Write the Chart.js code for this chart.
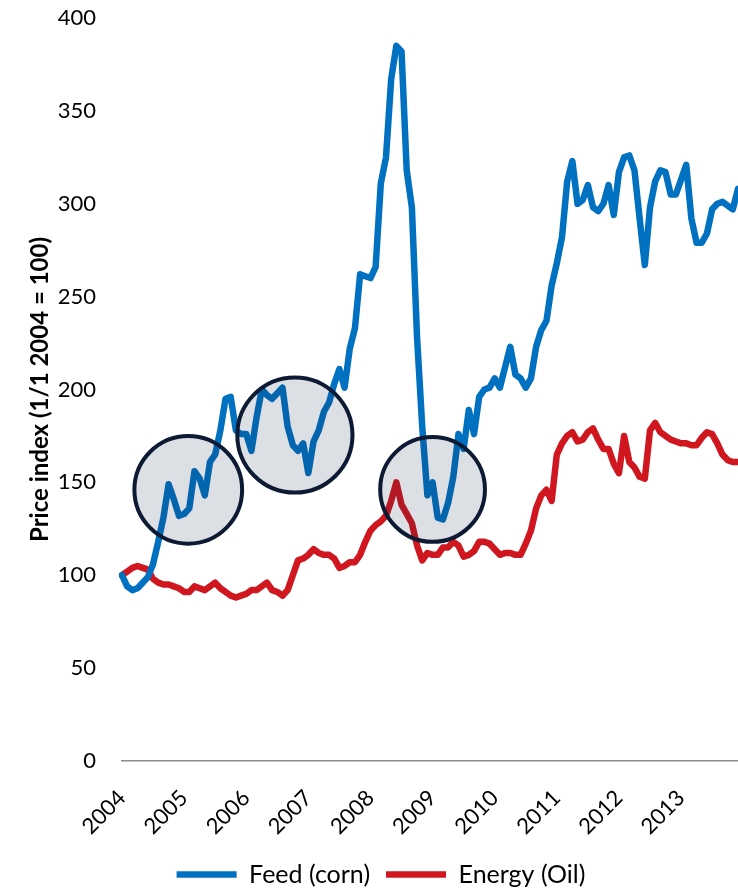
<!DOCTYPE html>
<html><head><meta charset="utf-8">
<script src="https://cdn.jsdelivr.net/npm/chart.js@4/dist/chart.umd.min.js"></script>
<style>html,body{margin:0;padding:0;background:#fff;} #wrap{width:738px;height:893px;}</style>
</head><body><div id="wrap"><canvas id="c" width="738" height="893"></canvas></div>
<script>
const years = ['2004','2005','2006','2007','2008','2009','2010','2011','2012','2013'];
const monthNames = ['01','02','03','04','05','06','07','08','09','10','11','12'];
const seriesNames = ['Feed (corn)', 'Energy (Oil)'];
const axisTitle = 'Price index (1/1 2004 = 100)';

const feedCorn = [
100,94,92,93,96,99,106,118,131,149,141,132,
133,136,156,152,143,161,165,178,195,196,178,176,
176,167,185,200,197,195,198,201,180,170,167,171,
155,172,178,188,193,203,211,201,222,233,262,261,
260,266,311,325,367,385,382,318,298,228,180,143,
150,131,130,139,153,176,168,189,176,196,200,201,
206,201,212,223,208,206,201,206,223,232,237,256,
268,282,312,323,300,302,310,298,296,300,310,294,
317,325,326,318,292,267,298,312,318,317,305,305,
313,321,292,279,279,284,297,300,301,299,297,308
];
const energyOil = [
100,102,104,105,104,103,98,96,95,95,94,93,
91,91,94,93,92,94,96,93,91,89,88,89,
90,92,92,94,96,92,91,89,92,100,108,109,
111,114,112,111,111,109,104,105,107,107,111,118,
124,127,129,132,140,150,138,133,128,116,108,112,
111,111,115,115,118,116,110,111,113,118,118,117,
114,111,112,112,111,111,117,124,136,143,146,140,
165,171,175,177,172,173,177,179,173,168,168,160,
155,175,161,158,153,152,178,182,177,175,173,172,
171,171,170,170,174,177,176,171,165,162,161,161
];
const yTicks = [0,50,100,150,200,250,300,350,400];

// highlighted periods (month index, index value, radius in index units)
const circleMonth = [12.8, 33.4, 60.0];
const circleValue = [146, 175.5, 146.2];
const circleRadius = [29, 31, 28.2];

const months = years.flatMap(y => monthNames.map(m => y + '-' + m));

const circlesPlugin = {
  id: 'circles',
  afterDatasetsDraw(chart) {
    const {ctx, scales: {x, y}} = chart;
    ctx.save();
    for (let i = 0; i < circleMonth.length; i++) {
      const cx = x.getPixelForValue(circleMonth[i]);
      const cy = y.getPixelForValue(circleValue[i]);
      const r = y.getPixelForValue(0) - y.getPixelForValue(circleRadius[i]);
      ctx.beginPath();
      ctx.arc(cx, cy, r, 0, Math.PI * 2);
      ctx.fillStyle = 'rgba(20,40,75,0.15)';
      ctx.fill();
      ctx.lineWidth = 4;
      ctx.strokeStyle = '#0c1b33';
      ctx.stroke();
    }
    ctx.restore();
  }
};
const legendShift = {
  id: 'legendShift',
  afterLayout(chart) {
    if (chart.legend) { chart.legend.left += 12; chart.legend.right += 12; }
  }
};

Chart.defaults.font.family = 'Lato, "Open Sans", sans-serif';
Chart.defaults.color = '#000';

new Chart(document.getElementById('c'), {
  type: 'line',
  data: {
    labels: months,
    datasets: [
      { label: seriesNames[0], data: feedCorn, borderColor: '#0070C0', backgroundColor: '#0070C0',
        borderWidth: 6.5, pointRadius: 0, tension: 0, borderCapStyle: 'round', borderJoinStyle: 'round' },
      { label: seriesNames[1], data: energyOil, borderColor: '#D0161E', backgroundColor: '#D0161E',
        borderWidth: 6.5, pointRadius: 0, tension: 0, borderCapStyle: 'round', borderJoinStyle: 'round' }
    ]
  },
  options: {
    responsive: false,
    animation: false,
    devicePixelRatio: 1,
    layout: { padding: { top: 18, right: 0, bottom: 0, left: 0 } },
    plugins: {
      legend: {
        position: 'bottom',
        maxHeight: 47,
        labels: { usePointStyle: true, pointStyle: 'line', pointStyleWidth: 60, boxHeight: 8,
          font: { size: 25 }, color: '#000', padding: 16 }
      },
      tooltip: { enabled: false }
    },
    scales: {
      x: {
        offset: false,
        grid: { display: false, drawTicks: false },
        border: { display: true, color: '#8c8c8c', width: 1.5 },
        ticks: { autoSkip: false, maxRotation: 45, minRotation: 45, padding: 24,
          font: { size: 22 }, color: '#000',
          callback: (v, i) => (i % 12 === 0 ? years[i / 12] : '') },
        afterFit: (s) => { s.paddingLeft = 0; s.paddingRight = 0; s.height = 85; }
      },
      y: {
        min: 0, max: 400,
        afterBuildTicks: (s) => { s.ticks = yTicks.map(v => ({ value: v })); },
        grid: { display: false, drawTicks: false },
        border: { display: false },
        ticks: { padding: 26, font: { size: 22 }, color: '#000' },
        title: { display: true, text: axisTitle, font: { size: 24, weight: 'bold' }, color: '#000',
          padding: { top: 26, bottom: 0 } },
        afterFit: (s) => { s.width = 122; s.paddingTop = 0; s.paddingBottom = 0; }
      }
    }
  },
  plugins: [circlesPlugin, legendShift]
});
</script>
</body></html>
